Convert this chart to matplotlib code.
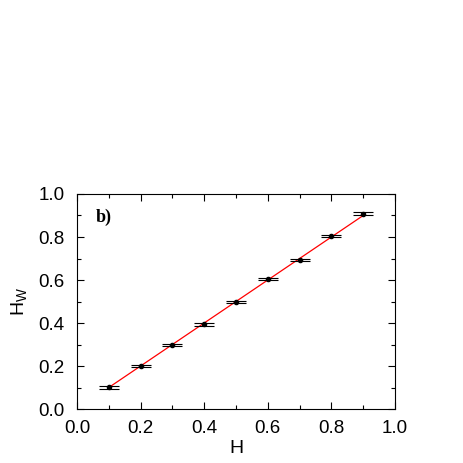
import numpy as np
import matplotlib.pyplot as plt
from matplotlib.ticker import MultipleLocator

# data
h = [0.1, 0.2, 0.3, 0.4, 0.5, 0.6, 0.7, 0.8, 0.9]
hw = [0.101, 0.201, 0.297, 0.394, 0.499, 0.605, 0.693, 0.804, 0.908]
hw_err = [0.006, 0.005, 0.005, 0.006, 0.005, 0.005, 0.006, 0.005, 0.006]
fit_x = [0.1, 0.9]
fit_y = [0.1, 0.9]

plt.rcParams['font.family'] = ['Liberation Sans', 'DejaVu Sans']

fig = plt.figure(figsize=(4.63, 4.63), dpi=100)
ax = fig.add_axes([0.1663, 0.1166, 0.6868, 0.4644])

ax.plot(fit_x, fit_y, '-', color='red', lw=0.9, zorder=1)
ax.errorbar(h, hw, yerr=hw_err, fmt='o', color='black', ms=3,
            capsize=7.5, capthick=0.8, elinewidth=0.8, zorder=2)

ax.set_xlim(0, 1)
ax.set_ylim(0, 1)
ax.xaxis.set_major_locator(MultipleLocator(0.2))
ax.xaxis.set_minor_locator(MultipleLocator(0.1))
ax.yaxis.set_major_locator(MultipleLocator(0.2))
ax.yaxis.set_minor_locator(MultipleLocator(0.1))
ax.tick_params(which='both', direction='in', top=True, right=True, labelsize=13.5)
ax.tick_params(which='major', length=5, width=0.8)
ax.tick_params(which='minor', length=3, width=0.8)
ax.tick_params(axis='y', pad=9)
ax.tick_params(axis='x', pad=8)

ax.set_xlabel('H', fontsize=14, labelpad=2)
ax.set_ylabel(r'H$_\mathregular{W}$', fontsize=14, labelpad=6)

ax.text(0.06, 0.89, 'b)', transform=ax.transAxes, fontsize=13,
        fontweight='bold', family='Liberation Serif', va='center')

fig.savefig('out.png', dpi=100)
